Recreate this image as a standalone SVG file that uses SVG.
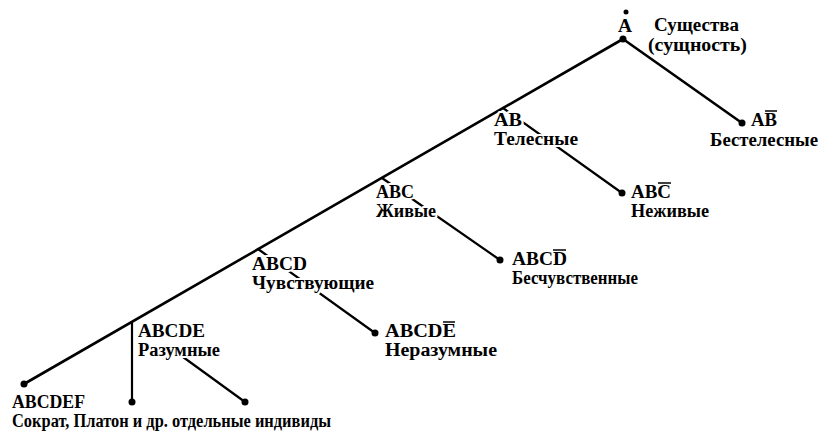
<svg xmlns="http://www.w3.org/2000/svg" width="824" height="432" viewBox="0 0 824 432">
<style>
.t{font-family:"Liberation Serif","Times New Roman",serif;font-weight:bold;font-size:18px;fill:#000;stroke:#fff;stroke-width:4px;paint-order:stroke;stroke-linejoin:round}
.l{stroke:#000;stroke-width:2.6;fill:none;stroke-linecap:round}
.b{stroke:#000;stroke-width:2.2;fill:none;stroke-linecap:round}
.bar{stroke:#000;stroke-width:1.5}
.d{fill:#000}
</style>
<rect width="824" height="432" fill="#fff"/>
<g id="connectors">
<line class="l" x1="623" y1="39" x2="24" y2="384"/>
<line class="l" x1="623" y1="39" x2="742" y2="123"/>
<line class="b" x1="503" y1="108" x2="622" y2="193"/>
<line class="b" x1="382" y1="178" x2="500" y2="260"/>
<line class="b" x1="258" y1="249" x2="375" y2="333"/>
<line class="b" x1="132" y1="322" x2="132" y2="402"/>
<line class="b" x1="172" y1="349" x2="245" y2="402"/>
</g>
<g id="nA">
<circle class="d" cx="623" cy="39" r="3.5"/>
<circle class="d" cx="626" cy="12" r="2.5"/>
<text class="t" x="618" y="32" textLength="14" lengthAdjust="spacingAndGlyphs">A</text>
<text class="t" x="654" y="31" textLength="85" lengthAdjust="spacingAndGlyphs">Существа</text>
<text class="t" x="648" y="51" textLength="99" lengthAdjust="spacingAndGlyphs">(сущность)</text>
</g>
<g id="nABbar">
<circle class="d" cx="742" cy="123" r="3.5"/>
<text class="t" x="751" y="126" textLength="26" lengthAdjust="spacingAndGlyphs">AB</text>
<line class="bar" x1="765" y1="111" x2="777" y2="111"/>
<text class="t" x="710" y="146" textLength="108" lengthAdjust="spacingAndGlyphs">Бестелесные</text>
</g>
<g id="nAB">
<text class="t" x="494" y="126" textLength="28" lengthAdjust="spacingAndGlyphs">AB</text>
<text class="t" x="494" y="145" textLength="84" lengthAdjust="spacingAndGlyphs">Телесные</text>
</g>
<g id="nABCbar">
<circle class="d" cx="622" cy="193" r="3.5"/>
<text class="t" x="631" y="198" textLength="40" lengthAdjust="spacingAndGlyphs">ABC</text>
<line class="bar" x1="658" y1="183" x2="671" y2="183"/>
<text class="t" x="631" y="217" textLength="78" lengthAdjust="spacingAndGlyphs">Неживые</text>
</g>
<g id="nABC">
<text class="t" x="376" y="198" textLength="38" lengthAdjust="spacingAndGlyphs">ABC</text>
<text class="t" x="376" y="217" textLength="60" lengthAdjust="spacingAndGlyphs">Живые</text>
</g>
<g id="nABCDbar">
<circle class="d" cx="500" cy="260" r="3.5"/>
<text class="t" x="512" y="265" textLength="55" lengthAdjust="spacingAndGlyphs">ABCD</text>
<line class="bar" x1="553" y1="250" x2="566" y2="250"/>
<text class="t" x="512" y="284" textLength="126" lengthAdjust="spacingAndGlyphs">Бесчувственные</text>
</g>
<g id="nABCD">
<text class="t" x="252" y="270" textLength="55" lengthAdjust="spacingAndGlyphs">ABCD</text>
<text class="t" x="252" y="289" textLength="122" lengthAdjust="spacingAndGlyphs">Чувствующие</text>
</g>
<g id="nABCDEbar">
<circle class="d" cx="375" cy="333" r="3.5"/>
<text class="t" x="385" y="337" textLength="71" lengthAdjust="spacingAndGlyphs">ABCDE</text>
<line class="bar" x1="443" y1="322" x2="455" y2="322"/>
<text class="t" x="385" y="356" textLength="112" lengthAdjust="spacingAndGlyphs">Неразумные</text>
</g>
<g id="nABCDE">
<text class="t" x="138" y="337" textLength="67" lengthAdjust="spacingAndGlyphs">ABCDE</text>
<text class="t" x="138" y="356" textLength="82" lengthAdjust="spacingAndGlyphs">Разумные</text>
</g>
<g id="nIndiv">
<circle class="d" cx="132" cy="402" r="3.5"/>
</g>
<g id="nABCDEbar2">
<circle class="d" cx="245" cy="402" r="3.5"/>
</g>
<g id="nABCDEF">
<circle class="d" cx="24" cy="384" r="3.5"/>
<text class="t" x="12" y="408" textLength="73" lengthAdjust="spacingAndGlyphs">ABCDEF</text>
<text class="t" x="12" y="427" textLength="319" lengthAdjust="spacingAndGlyphs">Сократ, Платон и др. отдельные индивиды</text>
</g>
</svg>
